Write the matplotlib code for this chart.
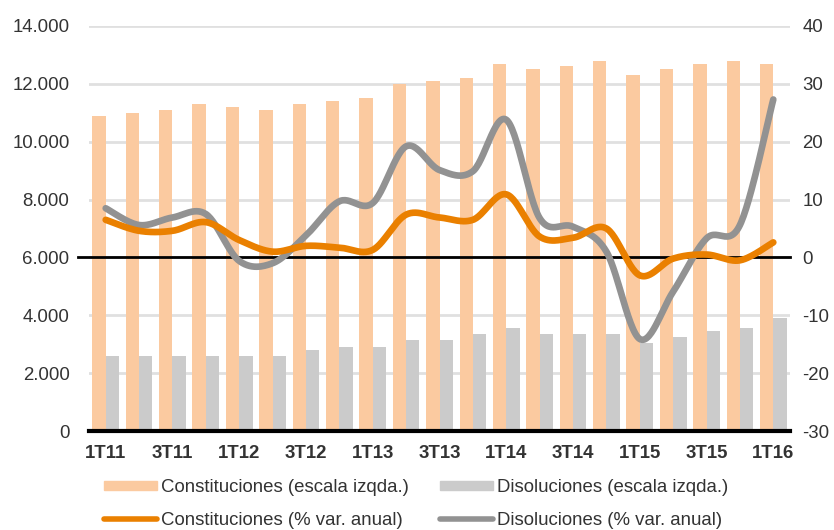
import numpy as np
import matplotlib
matplotlib.use("Agg")
import matplotlib.pyplot as plt
from matplotlib.patches import Patch
from matplotlib.lines import Line2D
from matplotlib.ticker import FuncFormatter

# =============================================================================
# data
# =============================================================================
quarters = ["1T11", "2T11", "3T11", "4T11", "1T12", "2T12", "3T12", "4T12",
            "1T13", "2T13", "3T13", "4T13", "1T14", "2T14", "3T14", "4T14",
            "1T15", "2T15", "3T15", "4T15", "1T16"]
constituciones = [10900, 11000, 11100, 11300, 11200, 11100, 11300, 11400,
                  11500, 12000, 12100, 12200, 12700, 12500, 12600, 12800,
                  12300, 12500, 12700, 12800, 12700]
disoluciones = [2600, 2600, 2600, 2600, 2600, 2600, 2800, 2900,
                2900, 3150, 3150, 3350, 3550, 3350, 3350, 3350,
                3050, 3250, 3450, 3550, 3900]
constituciones_pct = [6.5, 4.6, 4.6, 6.1, 3.0, 1.0, 2.0, 1.7, 1.3, 7.4, 6.9,
                      6.5, 10.9, 3.6, 3.4, 5.0, -3.1, -0.2, 0.5, -0.5, 2.6]
disoluciones_pct = [8.5, 5.6, 6.9, 7.5, -0.6, -1.0, 3.8, 9.7, 9.4, 19.2, 15.1,
                    14.9, 23.8, 6.8, 5.3, 1.0, -14.1, -5.9, 3.3, 5.6, 27.3]

C_BAR_CONS = "#FBCAA0"
C_BAR_DIS = "#CBCBCB"
C_LINE_CONS = "#EA8000"
C_LINE_DIS = "#929292"
TXT = "#333333"


def smooth(x, y, n=30):
    # excel-like smoothed line: bezier segments through every point
    x = np.asarray(x, float)
    y = np.asarray(y, float)
    xs, ys = [], []
    for i in range(len(x) - 1):
        x0, y0 = x[max(i - 1, 0)], y[max(i - 1, 0)]
        x3, y3 = x[min(i + 2, len(x) - 1)], y[min(i + 2, len(y) - 1)]
        p0 = np.array([x[i], y[i]])
        p3 = np.array([x[i + 1], y[i + 1]])
        p1 = p0 + (p3 - np.array([x0, y0])) / 6.0
        p2 = p3 - (np.array([x3, y3]) - p0) / 6.0
        t = np.linspace(0, 1, n)[:, None]
        b = ((1 - t) ** 3) * p0 + 3 * ((1 - t) ** 2) * t * p1 \
            + 3 * (1 - t) * t ** 2 * p2 + t ** 3 * p3
        xs.extend(b[:, 0])
        ys.extend(b[:, 1])
    return np.array(xs), np.array(ys)


plt.rcParams["font.family"] = ["Liberation Sans", "DejaVu Sans"]
plt.rcParams["axes.unicode_minus"] = False

fig = plt.figure(figsize=(8.34, 5.30), dpi=100)
ax = fig.add_axes([89 / 834, 1 - 431 / 530, 701 / 834, 405 / 530])
ax2 = ax.twinx()

x = np.arange(len(quarters))
w = 0.4
ax.bar(x - w / 2, constituciones, w, color=C_BAR_CONS, zorder=2)
ax.bar(x + w / 2, disoluciones, w, color=C_BAR_DIS, zorder=2)

ax.set_xlim(-0.5, len(quarters) - 0.5)
ax.set_ylim(0, 14000)
ax.set_yticks(np.arange(0, 14001, 2000))
ax.yaxis.set_major_formatter(FuncFormatter(lambda v, p: f"{v:,.0f}".replace(",", ".")))
ax.grid(axis="y", color="#E0E0E0", linewidth=2)
ax.set_axisbelow(True)

ax2.set_ylim(-30, 40)
ax2.set_yticks(np.arange(-30, 41, 10))

sx, sy = smooth(x, constituciones_pct)
ax2.plot(sx, sy, color=C_LINE_CONS, linewidth=4.8, solid_capstyle="round", zorder=4)
sx, sy = smooth(x, disoluciones_pct)
ax2.plot(sx, sy, color=C_LINE_DIS, linewidth=4.8, solid_capstyle="round", zorder=3)
ax2.axhline(0, xmin=-0.016, xmax=1, color="black", linewidth=2, clip_on=False, zorder=2)

ax.set_xticks(x[::2])
ax.set_xticklabels(quarters[::2], fontsize=13.4, fontweight="bold", color=TXT)

for a in (ax, ax2):
    for s in ("left", "right", "top", "bottom"):
        a.spines[s].set_visible(False)
    a.tick_params(length=0, labelsize=13.4, labelcolor=TXT)
ax.spines["bottom"].set_visible(True)
ax.spines["bottom"].set_color("black")
ax.spines["bottom"].set_linewidth(3)
ax.spines["bottom"].set_zorder(5)
ax.tick_params(axis="y", pad=14)
ax.tick_params(axis="x", pad=10)
ax2.tick_params(axis="y", pad=9)

handles = [Patch(color=C_BAR_CONS),
           Line2D([], [], color=C_LINE_CONS, linewidth=4, solid_capstyle="round"),
           Patch(color=C_BAR_DIS),
           Line2D([], [], color=C_LINE_DIS, linewidth=4, solid_capstyle="round")]
labels = ["Constituciones (escala izqda.)", "Constituciones (% var. anual)",
          "Disoluciones (escala izqda.)", "Disoluciones (% var. anual)"]
leg = fig.legend(handles, labels, ncol=2, loc="center",
                 bbox_to_anchor=(416 / 834, 1 - 504 / 530), frameon=False,
                 fontsize=13.4, handlelength=2.85, handleheight=0.35,
                 handletextpad=0.2, columnspacing=1.7, labelspacing=0.85)
for t in leg.get_texts():
    t.set_color(TXT)

fig.savefig("out.png", dpi=100)
